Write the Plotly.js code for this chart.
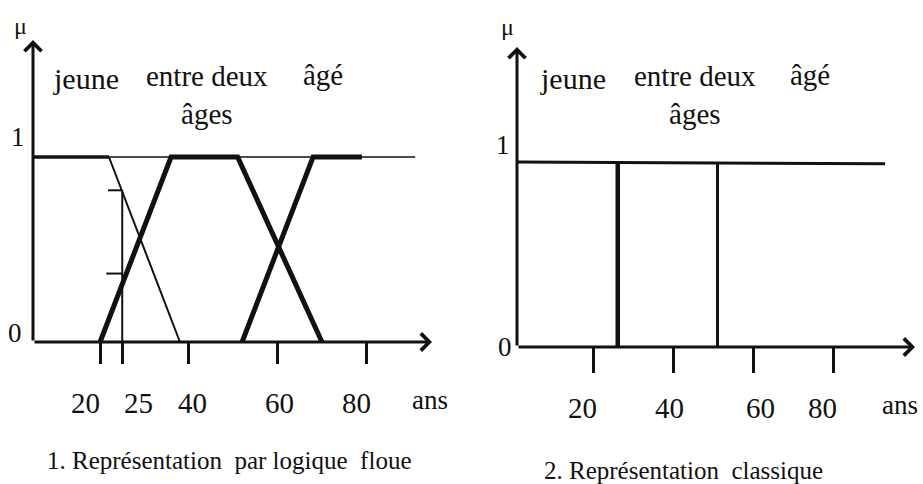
<!DOCTYPE html>
<html>
<head>
<meta charset="utf-8">
<script src="https://cdn.plot.ly/plotly-3.0.1.min.js"></script>
<style>html,body{margin:0;padding:0;background:#fff;}#chart{width:923px;height:484px;}</style>
</head>
<body>
<div id="chart"></div>
<script>
// ---------- data (ages in years, membership μ) ----------
// Panel 1 : fuzzy representation
const refLineAge   = [5, 91];          const refLineMu   = [1, 1];
const jeuneAge     = [5, 22, 38];      const jeuneMu     = [1, 1, 0];
const entreAge     = [20, 36, 51, 70]; const entreMu     = [0, 1, 1, 0];
const ageAge       = [52, 68, 79];     const ageMu       = [0, 1, 1];
const markAge      = [25, 25];         const markMu      = [0, 0.82];
const markArm1Age  = [21.8, 25];       const markArm1Mu  = [0.82, 0.82];
const markArm2Age  = [21.4, 25];       const markArm2Mu  = [0.37, 0.37];
const fuzzyTicks   = [20, 25, 40, 60, 80];
const fuzzyTickTxt = ['20', '25', '40', '60', '80'];
// Panel 2 : classical representation
const classicAge   = [1, 93];          const classicMu   = [1, 0.99];
const bound1Age    = [26, 26];         const bound1Mu    = [0, 1];
const bound2Age    = [51, 51];         const bound2Mu    = [0, 1];
const classicTicks   = [20, 40, 60, 80];
const classicTickTxt = ['20', '40', '60', '80'];
const categories = ['jeune', 'entre deux<br>âges', 'âgé'];

// ---------- layout / style ----------
const W = 923, H = 484;
const P = (px, py) => ({x: px / W, y: 1 - py / H});
const FONT = '"Liberation Serif", "Times New Roman", serif';
const INK = '#111';
// horizontal pixel offsets of the hand-placed tick labels
const fuzzyLabelShift   = [-15, 16, 4, 2, -10];
const classicLabelShift = [-11, -4, 7, -11];

function line(x, y, w, xa, ya) {
  return {type: 'scatter', mode: 'lines', x: x, y: y, xaxis: xa, yaxis: ya,
          line: {color: INK, width: w}, hoverinfo: 'skip', showlegend: false};
}

const data = [
  line(refLineAge, refLineMu, 1.5, 'x', 'y'),
  line(jeuneAge.slice(0, 2), jeuneMu.slice(0, 2), 3.5, 'x', 'y'),
  line(jeuneAge.slice(1), jeuneMu.slice(1), 2, 'x', 'y'),
  line(entreAge, entreMu, 5, 'x', 'y'),
  line(ageAge, ageMu, 5, 'x', 'y'),
  line(markAge, markMu, 2, 'x', 'y'),
  line(markArm1Age, markArm1Mu, 2, 'x', 'y'),
  line(markArm2Age, markArm2Mu, 2, 'x', 'y'),
  line(classicAge, classicMu, 3, 'x2', 'y2'),
  line(bound1Age, bound1Mu, 4.5, 'x2', 'y2'),
  line(bound2Age, bound2Mu, 3, 'x2', 'y2')
];

// pixel mapping of each panel (age -> px = a + b*age ; μ -> px = base - 185*μ)
const L = {a: 11.3, b: 4.438, base: 342};
const R = {a: 514, b: 3.99, base: 347};
const ageAt = (M, px) => (px - M.a) / M.b;
const muAt = (M, py) => (M.base - py) / 185;

function xax(M, dom, tv, tt, tl) {
  return {domain: dom, range: [ageAt(M, dom[0] * W), ageAt(M, dom[1] * W)],
          anchor: 'free', position: 1 - M.base / H,
          showgrid: false, zeroline: false, showline: false,
          ticks: 'outside', ticklen: tl, tickwidth: 3, tickcolor: INK,
          tickvals: tv, ticktext: tt, showticklabels: false, fixedrange: true};
}
function yax(M, bottomPx) {
  return {domain: [1 - bottomPx / H, 1], range: [muAt(M, bottomPx), muAt(M, 0)],
          showgrid: false, zeroline: false, showline: false, showticklabels: false,
          ticks: '', fixedrange: true};
}

function arrow(xa, ya, x0, y0, x1, y1) {
  return {xref: xa, yref: ya, axref: xa, ayref: ya, x: x1, y: y1, ax: x0, ay: y0,
          text: '', showarrow: true, arrowhead: 4, arrowsize: 1.1, arrowwidth: 3,
          arrowcolor: INK, standoff: 0, startstandoff: 0};
}
function label(txt, px, py, size) {
  const p = P(px, py);
  return {xref: 'paper', yref: 'paper', x: p.x, y: p.y, xanchor: 'center', yanchor: 'middle',
          text: txt, showarrow: false, font: {family: FONT, size: size, color: INK}};
}
function tickLabels(xa, vals, txt, shifts, py) {
  return vals.map((v, i) => ({xref: xa, yref: 'paper', x: v, y: 1 - py / H,
          xanchor: 'center', yanchor: 'middle', xshift: shifts[i], text: txt[i],
          showarrow: false, font: {family: FONT, size: 29, color: INK}}));
}

const annotations = [
  arrow('x', 'y', ageAt(L, 33), 0, ageAt(L, 33), muAt(L, 40)),
  arrow('x', 'y', ageAt(L, 33), 0, ageAt(L, 432), 0),
  arrow('x2', 'y2', ageAt(R, 517), 0, ageAt(R, 517), muAt(R, 47)),
  arrow('x2', 'y2', ageAt(R, 517), 0, ageAt(R, 915), 0),
  ...tickLabels('x', fuzzyTicks, fuzzyTickTxt, fuzzyLabelShift, 403),
  ...tickLabels('x2', classicTicks, classicTickTxt, classicLabelShift, 408),
  // panel 1 texts
  label('μ', 20, 26, 24), label('1', 18, 137, 27), label('0', 15, 333, 27),
  label(categories[0], 86, 78, 30), label(categories[1], 207, 95, 29), label(categories[2], 323, 75, 29),
  label('ans', 430, 400, 27),
  label('1. Représentation&nbsp; par logique&nbsp; floue', 229, 460, 25),
  // panel 2 texts
  label('μ', 507, 27, 24), label('1', 503, 145, 27), label('0', 505, 347, 27),
  label(categories[0], 573, 78, 30), label(categories[1], 695, 95, 29), label(categories[2], 810, 75, 29),
  label('ans', 900, 405, 27),
  label('2. Représentation&nbsp; classique', 683, 470, 25)
];

const layout = {
  width: W, height: H, margin: {l: 0, r: 0, t: 0, b: 0},
  paper_bgcolor: '#fff', plot_bgcolor: 'rgba(0,0,0,0)', showlegend: false,
  xaxis: xax(L, [0, 0.5], fuzzyTicks, fuzzyTickTxt, 21),
  yaxis: yax(L, 380),
  xaxis2: xax(R, [0.5, 1], classicTicks, classicTickTxt, 25),
  yaxis2: yax(R, 385),
  annotations: annotations
};

Plotly.newPlot('chart', data, layout, {staticPlot: true, displayModeBar: false});
</script>
</body>
</html>
